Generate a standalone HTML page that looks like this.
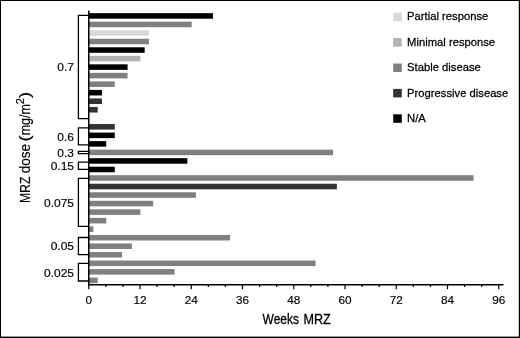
<!DOCTYPE html>
<html lang="en"><head><meta charset="utf-8"><title>MRZ dose vs weeks</title>
<style>html,body{margin:0;padding:0;background:#fff}svg{display:block}text{font-family:"Liberation Sans",Arial,Helvetica,sans-serif;fill:#000;stroke:#000;stroke-width:0.16px;stroke-linejoin:round}</style>
</head><body>
<svg width="520" height="338" viewBox="0 0 520 338">
<rect x="0" y="0" width="520" height="338" fill="#fff"/>
<rect x="0" y="0" width="520" height="1" fill="#000"/>
<rect x="0" y="0" width="1" height="338" fill="#000"/>
<rect x="518.8" y="0" width="1.2" height="338" fill="#000"/>
<rect x="0" y="336.6" width="520" height="1.4" fill="#000"/>
<rect x="89.0" y="13.15" width="124.01" height="5.55" fill="#000000"/>
<rect x="89.0" y="21.68" width="102.65" height="5.55" fill="#808080"/>
<rect x="89.0" y="30.21" width="59.94" height="5.55" fill="#d9d9d9"/>
<rect x="89.0" y="38.74" width="59.94" height="5.55" fill="#808080"/>
<rect x="89.0" y="47.27" width="55.67" height="5.55" fill="#000000"/>
<rect x="89.0" y="55.80" width="51.40" height="5.55" fill="#b3b3b3"/>
<rect x="89.0" y="64.33" width="38.59" height="5.55" fill="#000000"/>
<rect x="89.0" y="72.86" width="38.59" height="5.55" fill="#808080"/>
<rect x="89.0" y="81.39" width="25.78" height="5.55" fill="#808080"/>
<rect x="89.0" y="89.92" width="12.96" height="5.55" fill="#000000"/>
<rect x="89.0" y="98.45" width="12.96" height="5.55" fill="#333333"/>
<rect x="89.0" y="106.98" width="8.69" height="5.55" fill="#333333"/>
<rect x="89.0" y="124.04" width="25.78" height="5.55" fill="#333333"/>
<rect x="89.0" y="132.57" width="25.78" height="5.55" fill="#000000"/>
<rect x="89.0" y="141.10" width="17.23" height="5.55" fill="#000000"/>
<rect x="89.0" y="149.63" width="244.02" height="5.55" fill="#808080"/>
<rect x="89.0" y="158.16" width="98.38" height="5.55" fill="#000000"/>
<rect x="89.0" y="166.69" width="25.78" height="5.55" fill="#000000"/>
<rect x="89.0" y="175.22" width="384.54" height="5.55" fill="#808080"/>
<rect x="89.0" y="183.75" width="247.87" height="5.55" fill="#333333"/>
<rect x="89.0" y="192.28" width="106.92" height="5.55" fill="#808080"/>
<rect x="89.0" y="200.81" width="64.22" height="5.55" fill="#808080"/>
<rect x="89.0" y="209.34" width="51.40" height="5.55" fill="#808080"/>
<rect x="89.0" y="217.87" width="17.23" height="5.55" fill="#808080"/>
<rect x="89.0" y="226.40" width="4.42" height="5.55" fill="#808080"/>
<rect x="89.0" y="234.93" width="141.09" height="5.55" fill="#808080"/>
<rect x="89.0" y="243.46" width="42.86" height="5.55" fill="#808080"/>
<rect x="89.0" y="251.99" width="33.04" height="5.55" fill="#808080"/>
<rect x="89.0" y="260.52" width="226.51" height="5.55" fill="#808080"/>
<rect x="89.0" y="269.05" width="85.57" height="5.55" fill="#808080"/>
<rect x="89.0" y="277.58" width="8.69" height="5.55" fill="#808080"/>
<g stroke="#000" stroke-width="1.5" fill="none">
<path d="M88.75 10.4V285.5"/>
<path d="M88.0 284.75H503.5"/>
<path d="M88.75 284V289.3M105.83 284V287.1M122.92 284V287.1M140.00 284V289.3M157.09 284V287.1M174.17 284V287.1M191.25 284V289.3M208.34 284V287.1M225.42 284V287.1M242.51 284V289.3M259.59 284V287.1M276.67 284V287.1M293.76 284V289.3M310.84 284V287.1M327.93 284V287.1M345.01 284V289.3M362.09 284V287.1M379.18 284V287.1M396.26 284V289.3M413.35 284V287.1M430.43 284V287.1M447.51 284V289.3M464.60 284V287.1M481.68 284V287.1M498.77 284V289.3" stroke-width="1.2"/>
</g>
<g stroke="#000" stroke-width="1.3" fill="none">
<path d="M88.75 15.4H78.4V118.6H88.75"/>
<path d="M88.75 127.9H78.4V144.9H88.75"/>
<path d="M88.75 151.3H78.4V153.7H88.75"/>
<path d="M88.75 162.2H78.4V169.3H88.75"/>
<path d="M88.75 178.3H78.4V226.4H88.75"/>
<path d="M88.75 237.5H78.4V254.7H88.75"/>
<path d="M88.75 263.4H78.4V281.0H88.75"/>
</g>
<g font-size="11" text-anchor="middle">
<text transform="translate(88.75 304.4) scale(1.07 1)">0</text>
<text transform="translate(140.00 304.4) scale(1.07 1)">12</text>
<text transform="translate(191.25 304.4) scale(1.07 1)">24</text>
<text transform="translate(242.51 304.4) scale(1.07 1)">36</text>
<text transform="translate(293.76 304.4) scale(1.07 1)">48</text>
<text transform="translate(345.01 304.4) scale(1.07 1)">60</text>
<text transform="translate(396.26 304.4) scale(1.07 1)">72</text>
<text transform="translate(447.51 304.4) scale(1.07 1)">84</text>
<text transform="translate(498.77 304.4) scale(1.07 1)">96</text>
</g>
<g font-size="11" text-anchor="end">
<text transform="translate(74 71.3) scale(1.09 1)">0.7</text>
<text transform="translate(74 140.5) scale(1.09 1)">0.6</text>
<text transform="translate(74 156.7) scale(1.09 1)">0.3</text>
<text transform="translate(74 169.8) scale(1.09 1)">0.15</text>
<text transform="translate(74 207) scale(1.09 1)">0.075</text>
<text transform="translate(74 249.6) scale(1.09 1)">0.05</text>
<text transform="translate(74 276.5) scale(1.09 1)">0.025</text>
</g>
<text transform="translate(262.6 324.4) scale(0.855 1)" font-size="14" style="stroke-width:0.3px">Weeks</text>
<text transform="translate(303.4 324.4) scale(0.9 1)" font-size="14" style="stroke-width:0.3px">MRZ</text>
<text transform="translate(29.6 203.1) rotate(-90) scale(0.85 1)" font-size="14.4">MRZ</text>
<text transform="translate(29.6 173.2) rotate(-90) scale(0.94 1)" font-size="14.4">dose</text>
<text transform="translate(29.6 141.6) rotate(-90) scale(1.2 1)" font-size="15">(</text>
<text transform="translate(29.6 135.3) rotate(-90) scale(0.868 1)" font-size="14.4">mg/m</text>
<text transform="translate(23.6 104.3) rotate(-90) scale(1.08 1)" font-size="10.3">2</text>
<text transform="translate(29.6 98.0) rotate(-90) scale(1.2 1)" font-size="15">)</text>
<rect x="393.2" y="12.7" width="8.6" height="8.5" fill="#d9d9d9"/>
<text transform="translate(407.1 20.3) scale(1.008 1)" font-size="11.15" style="stroke-width:0.25px">Partial response</text>
<rect x="393.2" y="38.1" width="8.6" height="8.5" fill="#b3b3b3"/>
<text transform="translate(407.1 45.7) scale(1.008 1)" font-size="11.15" style="stroke-width:0.25px">Minimal response</text>
<rect x="393.2" y="63.5" width="8.6" height="8.5" fill="#808080"/>
<text transform="translate(407.1 71.1) scale(1.008 1)" font-size="11.15" style="stroke-width:0.25px">Stable disease</text>
<rect x="393.2" y="88.9" width="8.6" height="8.5" fill="#333333"/>
<text transform="translate(407.1 96.5) scale(1.008 1)" font-size="11.15" style="stroke-width:0.25px">Progressive disease</text>
<rect x="393.2" y="114.3" width="8.6" height="8.5" fill="#000000"/>
<text transform="translate(407.1 121.9) scale(1.008 1)" font-size="11.15" style="stroke-width:0.25px">N/A</text>
</svg>
</body></html>
